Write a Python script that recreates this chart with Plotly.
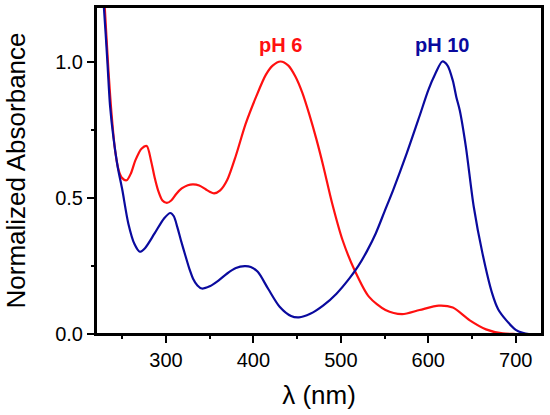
import plotly.graph_objects as go

# pH 6 spectrum (red)
wl_ph6 = [220, 225, 230, 234, 238, 242, 246, 250, 255, 260, 265, 272, 278, 283, 287, 291,
          296, 301, 306, 312, 318, 325, 331, 338, 345, 350, 355, 362, 370, 380, 391, 403,
          414, 422, 431, 440, 448, 456, 464, 472, 480, 490, 502, 516, 532, 551, 570, 590, 612,
          628, 647, 666, 685, 700, 730]
abs_ph6 = [1.75, 1.45, 1.2, 0.98, 0.8, 0.67, 0.6, 0.572, 0.564, 0.59, 0.637, 0.68, 0.69, 0.635, 0.575, 0.527,
           0.49, 0.481, 0.49, 0.515, 0.534, 0.546, 0.549, 0.545, 0.532, 0.522, 0.516, 0.527, 0.565, 0.655, 0.77, 0.87,
           0.95, 0.985, 1.0, 0.985, 0.945, 0.885, 0.805, 0.715, 0.615, 0.48, 0.344, 0.232, 0.137, 0.088, 0.073, 0.088, 0.104,
           0.097, 0.051, 0.017, 0.002, 0.0, 0.0]

# pH 10 spectrum (blue)
wl_ph10 = [220, 225, 229, 233, 236, 240, 245, 250, 257, 264, 270, 276, 287, 298, 305, 309, 313, 317, 322, 327, 331, 336,
           341, 350, 360, 370, 380, 390, 397, 405, 417, 430, 443, 452, 465, 480, 495, 510, 520, 530, 540, 550,
           560, 575, 590, 600, 608, 616, 622, 628, 632, 636, 643, 652, 662, 673, 680, 689, 700, 708, 715, 730]
abs_ph10 = [1.6, 1.35, 1.2, 1.0, 0.84, 0.72, 0.61, 0.53, 0.405, 0.33, 0.302, 0.315, 0.369, 0.425, 0.444, 0.432, 0.392, 0.345, 0.29, 0.237, 0.203, 0.178,
            0.167, 0.175, 0.196, 0.222, 0.242, 0.249, 0.246, 0.228, 0.165, 0.1, 0.066, 0.061, 0.074, 0.105, 0.148, 0.205, 0.25, 0.305, 0.37, 0.45,
            0.53, 0.66, 0.8, 0.895, 0.955, 1.0, 0.985, 0.93, 0.87, 0.82, 0.686, 0.466, 0.295, 0.149, 0.09, 0.051, 0.015, 0.004, 0.0, 0.0]

x_ticks = [300, 400, 500, 600, 700]
y_ticks = [0.0, 0.5, 1.0]
labels = ["pH 6", "pH 10"]
label_pos_x = [430.7, 615.3]

RED = "#FF1010"
BLUE = "#0A0A9E"
FONT = "Liberation Sans, Arial"
X_RANGE = [220, 730]
Y_RANGE = [0, 1.2]

fig = go.Figure()
fig.add_trace(go.Scatter(x=wl_ph6, y=abs_ph6, mode="lines", name=labels[0],
                         line=dict(color=RED, width=2.2, shape="spline", smoothing=0.8)))
fig.add_trace(go.Scatter(x=wl_ph10, y=abs_ph10, mode="lines", name=labels[1],
                         line=dict(color=BLUE, width=2.2, shape="spline", smoothing=0.8)))
# empty trace so the overlaid minor-tick axes get drawn
fig.add_trace(go.Scatter(x=[], y=[], xaxis="x2", yaxis="y2", hoverinfo="skip", showlegend=False))

for txt, xx, col in zip(labels, label_pos_x, [RED, BLUE]):
    fig.add_annotation(x=xx, y=1.06, text="<b>%s</b>" % txt, showarrow=False,
                       font=dict(size=20, color=col, family=FONT))

# frame around the plot area
fig.add_shape(type="rect", xref="paper", yref="paper", x0=0, y0=0, x1=1, y1=1,
              line=dict(color="black", width=2), layer="above")

axis_common = dict(showline=True, linecolor="black", linewidth=2, mirror=True,
                   showgrid=False, zeroline=False, ticks="outside", ticklen=7,
                   tickwidth=1.5, tickcolor="black",
                   tickfont=dict(size=20, color="black", family=FONT))

dx = x_ticks[1] - x_ticks[0]
dy = y_ticks[1] - y_ticks[0]

fig.update_layout(
    width=550, height=415, margin=dict(l=96, r=8, t=7, b=81, autoexpand=False),
    plot_bgcolor="white", paper_bgcolor="white", showlegend=False,
    xaxis=dict(range=X_RANGE, tickmode="linear", tick0=x_ticks[0], dtick=dx,
               title=dict(text="λ (nm)", font=dict(size=26, color="black", family=FONT), standoff=16),
               **axis_common),
    yaxis=dict(range=Y_RANGE, tickmode="linear", tick0=y_ticks[0], dtick=dy, tickformat=".1f",
               title=dict(text="Normalized Absorbance", font=dict(size=26, color="black", family=FONT), standoff=22),
               **axis_common),
    # minor ticks via overlaid axes
    xaxis2=dict(range=X_RANGE, overlaying="x", anchor="y2", side="bottom",
                tickmode="linear", tick0=0, dtick=dx / 2, ticks="outside", ticklen=4,
                tickwidth=1.5, tickcolor="black", showticklabels=False,
                showgrid=False, zeroline=False, showline=False),
    yaxis2=dict(range=Y_RANGE, overlaying="y", anchor="x2", side="left",
                tickmode="linear", tick0=0, dtick=dy / 2, ticks="outside", ticklen=4,
                tickwidth=1.5, tickcolor="black", showticklabels=False,
                showgrid=False, zeroline=False, showline=False),
)

fig.write_html("out.html", config={"displayModeBar": False},
               post_script="document.body.style.margin='0';")
